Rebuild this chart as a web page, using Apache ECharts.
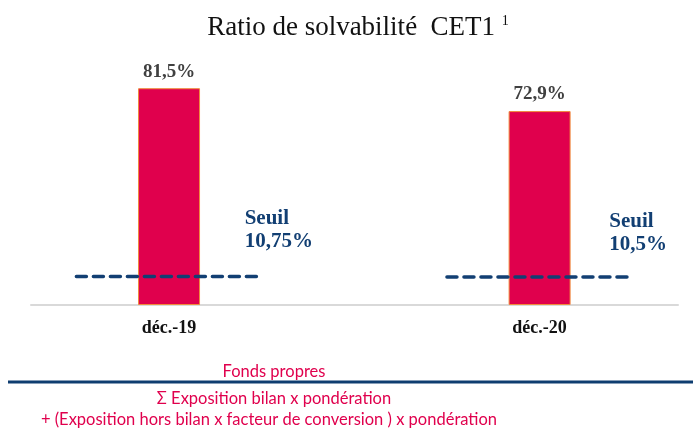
<!DOCTYPE html>
<html>
<head>
<meta charset="utf-8">
<script src="https://cdn.jsdelivr.net/npm/echarts@6/dist/echarts.min.js"></script>
<style>
  html, body { margin: 0; padding: 0; background: #fff; }
  #chart { width: 693px; height: 436px; }
</style>
</head>
<body>
<div id="chart"></div>
<script>
// data
const categories = ["déc.-19", "déc.-20"];
const ratioValues = [81.5, 72.9];
const ratioLabels = ["81,5%", "72,9%"];
const thresholds = [10.75, 10.5];
const thresholdLabels = ["Seuil\n10,75%", "Seuil\n10,5%"];
const formulaLines = [
  "Fonds propres",
  "Σ Exposition bilan x pondération",
  "+ (Exposition hors bilan x facteur de conversion ) x pondération",
];

let dom = document.getElementById("chart");
let myChart = echarts.init(dom, null, { renderer: "canvas" });

const red = "#E0004D";
const blue = "#123F73";

// one dashed threshold line per category, centered on the bar
let thresholdSeries = thresholds.map(function (t, i) {
  return {
    type: "line",
    data: [[i - 0.25, t], [i + 0.25, t]],
    symbol: "none",
    silent: true,
    lineStyle: { color: blue, width: 3.5, type: [10, 7], cap: "round" },
    endLabel: {
      show: true,
      formatter: thresholdLabels[i],
      distance: 0,
      offset: i === 0 ? [-17, -46] : [-23, -44],
      fontFamily: "Liberation Serif",
      fontWeight: "bold",
      fontSize: 21,
      lineHeight: 23,
      color: blue,
      align: "left",
    },
  };
});

const formulaStyle = { fontFamily: "Lato", fontSize: 16.5, fontWeight: "normal", color: red };

option = {
  animation: false,
  title: [
    {
      text: "{a|Ratio de solvabilité  CET1 }{s|1}",
      left: 353,
      top: 9,
      textAlign: "center",
      textStyle: {
        fontWeight: "normal",
        rich: {
          a: { fontFamily: "Liberation Serif", fontSize: 27, fontWeight: "normal", color: "#111" },
          s: { fontFamily: "Liberation Serif", fontSize: 14, fontWeight: "normal", color: "#111", padding: [0, 0, 12, 0] },
        },
      },
    },
    { text: formulaLines[0], left: 269, top: 358, textAlign: "center", textStyle: formulaStyle },
    { text: formulaLines[1], left: 269, top: 385, textAlign: "center", textStyle: formulaStyle },
    { text: formulaLines[2], left: 264, top: 406, textAlign: "center", textStyle: formulaStyle },
  ],
  graphic: [
    {
      type: "line",
      shape: { x1: 8, y1: 382, x2: 693, y2: 382 },
      style: { stroke: "#0E3D70", lineWidth: 3 },
    },
  ],
  grid: { left: 31, right: 15, top: 39, bottom: 131 },
  xAxis: {
    type: "value",
    min: -0.3725,
    max: 1.3735,
    splitLine: { show: false },
    axisTick: { show: false },
    axisLine: { show: true, lineStyle: { color: "#D9D9D9", width: 2 } },
    axisLabel: {
      customValues: [0, 1],
      formatter: function (v) {
        return categories[Math.round(v)];
      },
      margin: 14,
      fontFamily: "Liberation Serif",
      fontWeight: "bold",
      fontSize: 18,
      color: "#111",
    },
  },
  yAxis: {
    type: "value",
    min: 0,
    max: 100,
    show: false,
  },
  series: [
    {
      type: "bar",
      data: ratioValues.map(function (v, i) { return [i, v]; }),
      barWidth: 62,
      clip: false,
      itemStyle: { color: red, borderColor: "#F08A3C", borderWidth: 1 },
      label: {
        show: true,
        position: "top",
        distance: 7,
        formatter: function (p) { return ratioLabels[p.dataIndex]; },
        fontFamily: "Liberation Serif",
        fontWeight: "bold",
        fontSize: 19,
        color: "#404040",
      },
    },
    ...thresholdSeries,
  ],
};

myChart.setOption(option);

window.addEventListener("resize", function () {
  if (myChart) {
    myChart.resize();
  }
});
</script>
</body>
</html>
